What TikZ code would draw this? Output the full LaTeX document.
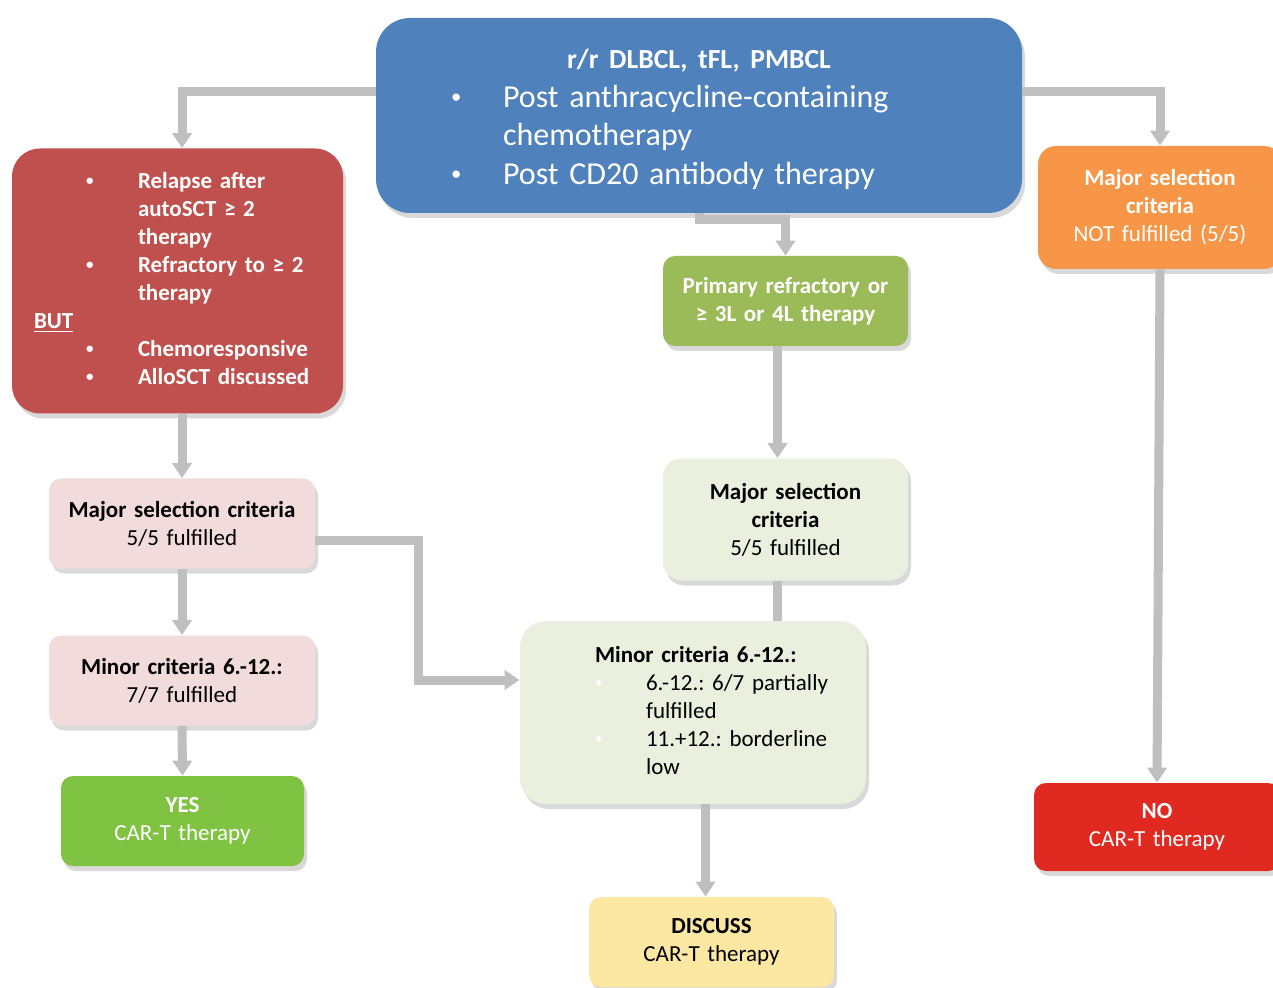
\documentclass[tikz,border=0pt]{standalone}
\usepackage{fontspec}
\setmainfont{Carlito}
\usepackage{tikz}
\usetikzlibrary{positioning}
\usetikzlibrary{shapes.geometric, arrows.meta, shadows}

\definecolor{topblue}{HTML}{4F81BD}
\definecolor{relapsered}{HTML}{C0504D}
\definecolor{majororange}{HTML}{F79646}
\definecolor{primarygreen}{HTML}{9BBB59}
\definecolor{palegreen}{HTML}{EAF0DD}
\definecolor{palepink}{HTML}{F2DCDB}
\definecolor{yesgreen}{HTML}{80C342}
\definecolor{discussyellow}{HTML}{FCE8A2}
\definecolor{nored}{HTML}{E02A21}
\definecolor{linegray}{HTML}{BFBFBF}

\frenchspacing
\newcommand{\boxfont}{\fontsize{11.5}{14}\selectfont}
\newcommand{\topfont}{\fontsize{16}{19.25}\selectfont}
\newcommand{\blt}{\raisebox{0.12em}{\scalebox{0.65}{•}}}

\tikzstyle{box} = [rectangle, rounded corners=6pt, inner sep=0pt, align=center, font=\boxfont,
  drop shadow={shadow xshift=1.5pt, shadow yshift=-2.5pt, opacity=0.3}]
\tikzstyle{arrow} = [line width=4.5pt, draw=linegray, -{Triangle[width=9.5pt,length=7.5pt]}]
\tikzstyle{line} = [line width=4.5pt, draw=linegray]

\begin{document}
\begin{tikzpicture}[x=0.5pt, y=-0.5pt]
\useasboundingbox (0,0) rectangle (1273,988);
\clip (0,0) rectangle (1273,988);

%Nodes
\node[box, fill=topblue, text=white, rounded corners=17pt, minimum width=323pt, minimum height=97.5pt, text width=323pt, font=\topfont] (top) at (699,115.5)
  {\rule{0pt}{17pt}{\fontsize{13.8}{19.25}\selectfont\bfseries r/r DLBCL, tFL, PMBCL}\\
   \begin{tabular}[t]{@{}p{26pt}@{}p{222pt}@{}}
   \blt & Post anthracycline-containing\\
        & chemotherapy\\
   \blt & Post CD20 antibody therapy
   \end{tabular}};

\node[box, fill=relapsered, text=white, rounded corners=14pt, minimum width=165.5pt, minimum height=132.5pt, text width=143.5pt, inner xsep=11pt, align=left, font=\boxfont\bfseries] (relapse) at (177.5,281)
  {\begin{tabular}{@{}p{26pt}@{}p{26pt}@{}l@{}}
   & \blt & Relapse after\\
   &      & autoSCT ≥ 2\\
   &      & therapy\\
   & \blt & Refractory to ≥ 2\\
   &      & therapy\\
   \multicolumn{3}{@{}l@{}}{\underline{BUT}}\\
   & \blt & Chemoresponsive\\
   & \blt & AlloSCT discussed
   \end{tabular}};

\node[box, fill=majororange, text=white, rounded corners=9pt, minimum width=122pt, minimum height=61.5pt, text width=122pt] (notmet) at (1160,207.5)
  {\textbf{Major selection}\\\textbf{criteria}\\NOT fulfilled (5/5)};

\node[box, fill=primarygreen, text=white, minimum width=122.5pt, minimum height=45pt, text width=122.5pt, font=\boxfont\bfseries] (primary) at (785.5,301)
  {Primary refractory or\\≥ 3L or 4L therapy};

\node[box, fill=palegreen, rounded corners=9pt, minimum width=122.5pt, minimum height=61pt, text width=122.5pt] (major2) at (785.5,519.5)
  {\textbf{Major selection}\\\textbf{criteria}\\5/5 fulfilled};

\node[box, fill=palegreen, rounded corners=13pt, minimum width=173pt, minimum height=91.5pt, text width=133pt, inner xsep=20pt, align=left] (minor2) at (693,712.5)
  {\begin{tabular}{@{\hspace{17.5pt}}p{25.5pt}@{}l@{}}
   \multicolumn{2}{@{\hspace{17.5pt}}l@{}}{\textbf{Minor criteria 6.-12.:}}\\
   \textcolor{white}{\blt} & 6.-12.: 6/7 partially\\
                           & fulfilled\\
   \textcolor{white}{\blt} & 11.+12.: borderline\\
                           & low
   \end{tabular}};

\node[box, fill=palepink, minimum width=133pt, minimum height=45pt, text width=133pt] (major1) at (182,523.5)
  {\textbf{Major selection criteria}\\5/5 fulfilled};
\node[box, fill=palepink, minimum width=133pt, minimum height=45pt, text width=133pt] (minor1) at (182,680.5)
  {\textbf{Minor criteria 6.-12.:}\\7/7 fulfilled};
\node[box, fill=yesgreen, text=white, minimum width=121.5pt, minimum height=45pt, text width=121.5pt] (yes) at (182.5,821)
  {\textbf{YES}\\CAR-T therapy};
\node[box, fill=discussyellow, minimum width=122.5pt, minimum height=45pt, text width=122.5pt] (discuss) at (711.5,942)
  {\textbf{DISCUSS}\\CAR-T therapy};
\node[box, fill=nored, text=white, minimum width=123pt, minimum height=44pt, text width=123pt] (no) at (1157,827)
  {\textbf{NO}\\CAR-T therapy};

\coordinate (bend) at (418,540);

%Lines
\draw[arrow] (top.west |- 0,92) -| (major1.north |- relapse.north);
\draw[arrow] (top.east |- 0,92) -| (notmet.north);
\draw[arrow] (top.south) -- ++(0,6) -| (primary.north);
\draw[arrow] ([xshift=-4pt]primary.south) -- ([xshift=-4pt]major2.north);
\draw[line] ([xshift=-4pt]major2.south) -- ([xshift=-4pt]major2.south |- minor2.north);
\draw[arrow] ([xshift=-3pt]discuss.north |- minor2.south) -- ([xshift=-3pt]discuss.north);
\draw[arrow] (major1.north |- relapse.south) -- (major1.north);
\draw[arrow] (major1.south) -- (minor1.north);
\draw[arrow] (minor1.south) -- (yes.north);
\draw[arrow] (major1.east |- bend) -- (bend) |- (minor2.west |- 0,680);
\draw[arrow] (notmet.south) -- (no.north);
\end{tikzpicture}
\end{document}
